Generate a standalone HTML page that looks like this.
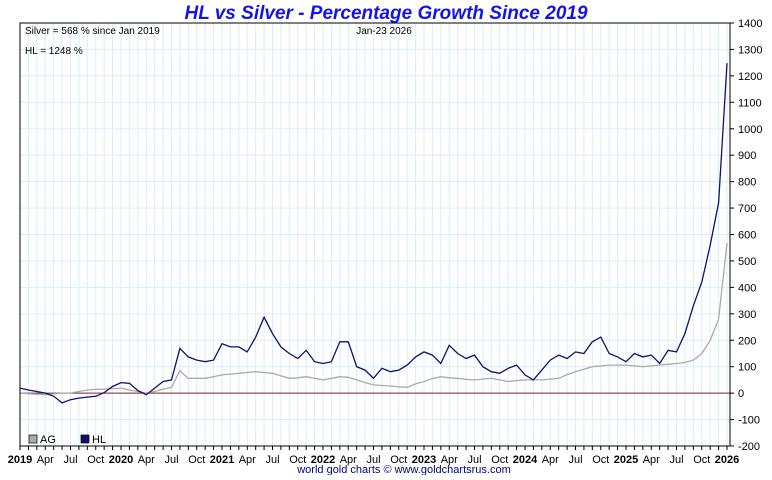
<!DOCTYPE html>
<html><head><meta charset="utf-8"><style>
body{margin:0;background:#fff;font-family:"Liberation Sans",Arial,sans-serif}
svg text{font-family:"Liberation Sans",Arial,sans-serif}
</style></head><body>
<svg id="c" width="772" height="475">
<text x="386" y="19" text-anchor="middle" font-size="19" font-weight="bold" font-style="italic" fill="#1414e6">HL vs Silver - Percentage Growth Since 2019</text>
</svg>
<script>
const hlValues=[19,12,6,0,-12,-37,-25,-19,-15,-12,2,25,
40,37,10,-6,19,44,50,169,137,125,119,125,
187,175,175,156,212,287,225,175,150,131,162,119,
112,119,194,194,100,87,56,94,81,87,106,137,
156,144,112,181,150,131,144,100,81,75,94,106,
69,50,87,125,144,131,156,150,194,212,150,137,
119,150,137,144,112,162,156,225,330,420,560,720,1248];
const agValues=[0,-2,-4,-6,-3,0,0,6,12,14,15,17,
19,12,6,0,6,15,22,85,56,56,56,62,
69,72,75,78,81,78,75,65,56,58,62,56,
50,56,62,60,50,40,31,29,27,24,22,35,
44,55,62,58,56,52,50,53,56,50,44,47,
50,50,50,53,56,70,81,90,100,103,106,106,
106,103,100,103,106,109,112,116,125,150,200,280,568];
const yTicks=[1400,1300,1200,1100,1000,900,800,700,600,500,400,300,200,100,0,-100,-200];
const xLabels=["2019","Apr","Jul","Oct","2020","Apr","Jul","Oct","2021","Apr","Jul","Oct","2022","Apr","Jul","Oct","2023","Apr","Jul","Oct","2024","Apr","Jul","Oct","2025","Apr","Jul","Oct","2026"];

const L=20,R=730,T=23,B=446,ymin=-200,ymax=1400;
const x=m=>L+m*(101/12);
const y=v=>B-(v-ymin)/(ymax-ymin)*(B-T);
const svg=document.getElementById('c');
const NS="http://www.w3.org/2000/svg";
function mk(t,a){const e=document.createElementNS(NS,t);for(const k in a)e.setAttribute(k,a[k]);svg.appendChild(e);return e;}
for(let m=0;x(m)<=R;m++){const g=mk('line',{x1:x(m),x2:x(m),y1:T,y2:B,stroke:'#dcecf8','stroke-width':1});

}
for(let v=ymin;v<=ymax;v+=100){const g=mk('line',{x1:L,x2:R,y1:y(v),y2:y(v),stroke:'#dcecf8','stroke-width':1});

}
const z=mk('line',{x1:L,x2:R,y1:y(0),y2:y(0),stroke:'#882222','stroke-width':1});


function series(vals,col,name,w){
 const pts=vals.map((v,i)=>{const xx=Math.min(x(i),R-3);return xx.toFixed(1)+','+y(v).toFixed(1)}).join(' ');
 const p=mk('polyline',{points:pts,fill:'none',stroke:col,'stroke-width':w});
 
 
}
series(agValues,'#aaaaaa','ag-line',1.3);
series(hlValues,'#101070','hl-line',1.3);
const fr=mk('rect',{x:L,y:T,width:R-L,height:B-T,fill:'none',stroke:'#000','stroke-width':1});


yTicks.forEach(v=>{
 const tk=mk('line',{x1:R,x2:R+4,y1:y(v),y2:y(v),stroke:'#000'});
 
 
 const t=mk('text',{x:R+8,y:y(v)+4,'font-size':11,fill:'#000'});t.textContent=v;
 
 
});
for(let m=0;x(m)<=R;m++){
 const tk=mk('line',{x1:x(m),x2:x(m),y1:B,y2:B+4,stroke:'#000'});
 
 
}
xLabels.forEach((s,i)=>{
 const yr=i%4===0;
 const t=mk('text',{x:x(i*3),y:463,'font-size':11,'text-anchor':'middle','font-weight':yr?'bold':'normal',fill:'#000'});t.textContent=s;
 
 
});
function txt(s,a,name){const t=mk('text',a);t.textContent=s;return t;}
txt('Silver = 568 % since Jan 2019',{x:25,y:34,'font-size':10},'silver-annotation');
txt('HL = 1248 %',{x:25,y:54,'font-size':10},'hl-annotation');
txt('Jan-23  2026',{x:384,y:34,'font-size':10,'text-anchor':'middle'},'date-label');
txt('world gold charts © www.goldchartsrus.com',{x:404,y:473,'font-size':11,'text-anchor':'middle',fill:'#000080'},'footer-credit');
const r1=mk('rect',{x:29,y:435,width:8,height:8,fill:'#aaa',stroke:'#000','stroke-width':0.7});


txt('AG',{x:40,y:443,'font-size':11},'legend-ag');
const r2=mk('rect',{x:81,y:435,width:8,height:8,fill:'#101070',stroke:'#000','stroke-width':0.7});


txt('HL',{x:92,y:443,'font-size':11},'legend-hl');
</script>
</body></html>
